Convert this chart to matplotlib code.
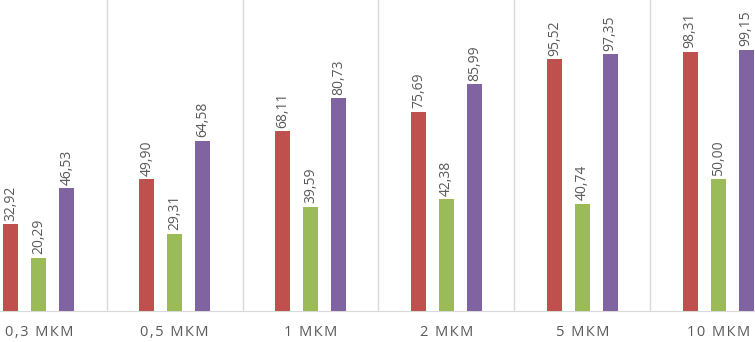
import numpy as np
import matplotlib
matplotlib.use("Agg")
import matplotlib.pyplot as plt

plt.rcParams['font.family'] = ['Open Sans', 'DejaVu Sans']

# размеры частиц
categories = ["0,3 МКМ", "0,5 МКМ", "1 МКМ", "2 МКМ", "5 МКМ", "10 МКМ"]
red_vals = [32.92, 49.90, 68.11, 75.69, 95.52, 98.31]
green_vals = [20.29, 29.31, 39.59, 42.38, 40.74, 50.00]
purple_vals = [46.53, 64.58, 80.73, 85.99, 97.35, 99.15]

colors = ["#C0504D", "#9BBB59", "#8064A2"]
series = [red_vals, green_vals, purple_vals]

fig = plt.figure(figsize=(7.55, 3.42), dpi=100)
# оси чуть шире картинки - график обрезан слева и справа
ax = fig.add_axes([-29 / 755, 31 / 342, 815 / 755, 311 / 342])

x = np.arange(len(categories))
offsets = [-0.206, 0.0, 0.206]
w = 0.11

for vals, off, c in zip(series, offsets, colors):
    bars = ax.bar(x + off, vals, w, color=c, zorder=3)
    for b, v in zip(bars, vals):
        ax.text(b.get_x() + b.get_width() / 2, v + 1.4, f"{v:.2f}".replace(".", ","),
                rotation=90, ha="center", va="bottom", fontsize=10, color="#595959")

# разделители между группами
for xs in np.arange(-0.5, len(categories) + 0.5, 1.0):
    ax.axvline(xs, color="#D9D9D9", lw=1, zorder=1)

# разрядка букв в подписях
spaced = ["\u200a".join(c) for c in categories]

ax.set_xlim(-0.5, len(categories) - 0.5)
ax.set_ylim(0, 118)
ax.set_yticks([])
ax.set_xticks(x)
ax.set_xticklabels(spaced, fontsize=10.5, color="#595959")
ax.tick_params(axis="x", length=0, pad=10)

for s in ["top", "left", "right"]:
    ax.spines[s].set_visible(False)
ax.spines["bottom"].set_color("#D9D9D9")

fig.savefig("out.png", dpi=100)
